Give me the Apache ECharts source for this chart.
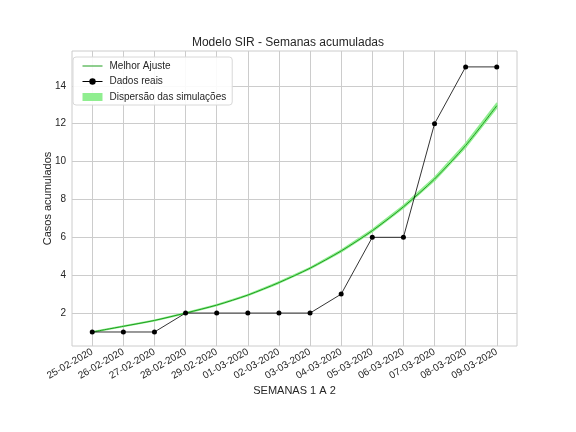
<!DOCTYPE html>
<html><head><meta charset="utf-8">
<script src="https://cdn.jsdelivr.net/npm/echarts@6/dist/echarts.min.js"></script>
<style>html,body{margin:0;padding:0;background:#fff}#c{width:576px;height:432px}</style>
</head><body><div id="c"></div>
<script>
const categories = ['25-02-2020','26-02-2020','27-02-2020','28-02-2020','29-02-2020','01-03-2020','02-03-2020','03-03-2020','04-03-2020','05-03-2020','06-03-2020','07-03-2020','08-03-2020','09-03-2020'];
const bestFit = [1.0,1.30,1.61,2.0,2.42,2.95,3.61,4.37,5.28,6.35,7.61,9.08,10.85,12.95];
const simLower = [0.99,1.29,1.60,1.98,2.40,2.93,3.58,4.34,5.24,6.30,7.55,9.00,10.76,12.84];
const simUpper = [1.01,1.31,1.62,2.02,2.44,2.97,3.64,4.40,5.32,6.40,7.67,9.16,10.95,13.08];
const realData = [1,1,1,2,2,2,2,2,3,6,6,12,15,15];
const yTicks = [2,4,6,8,10,12,14];

const xIdx = categories.map((_, i) => i);
const pair = arr => arr.map((v, i) => [i, v]);
const bandSegs = xIdx.slice(0, -1).map(i => [i, simLower[i], simUpper[i], simLower[i + 1], simUpper[i + 1]]);
const txt = '#262626';
const font = 'Liberation Sans, Arial, sans-serif';
const bandColor = '#90ee90';
const fitColor = '#1f9e1f';

const chart = echarts.init(document.getElementById('c'));
chart.setOption({
  animation: false,
  textStyle: {fontFamily: font, color: txt},
  title: {text: 'Modelo SIR - Semanas acumuladas', left: 'center', top: 32,
    textStyle: {fontFamily: font, fontSize: 12, fontWeight: 'normal', color: txt}},
  grid: {left: 72, right: 59, top: 51, bottom: 86, show: true, borderColor: '#cccccc', borderWidth: 1, backgroundColor: '#fff'},
  legend: {
    orient: 'vertical', left: 73, top: 57, itemGap: 5.5, itemWidth: 20, itemHeight: 8,
    backgroundColor: 'rgba(255,255,255,0.9)', borderColor: '#d8d8d8', borderWidth: 1, borderRadius: 3,
    padding: [4, 6, 3, 9],
    textStyle: {fontFamily: font, fontSize: 10, color: txt, padding: [0, 0, 0, 2]},
    data: [
      {name: 'Melhor Ajuste', itemStyle: {color: fitColor, opacity: 0}, lineStyle: {width: 1, color: fitColor, opacity: 1}},
      {name: 'Dados reais', lineStyle: {width: 1}},
      {name: 'Dispersão das simulações', icon: 'rect', itemStyle: {color: bandColor}}
    ]
  },
  xAxis: {
    type: 'value', min: -0.65, max: 13.65,
    axisLine: {show: false},
    axisTick: {show: true, length: 0, customValues: xIdx},
    splitLine: {show: true, lineStyle: {color: '#cccccc', width: 1}},
    axisLabel: {customValues: xIdx, rotate: 30, fontSize: 10, color: txt, margin: 5, fontFamily: font,
      formatter: v => categories[Math.round(v)] || ''},
    name: 'SEMANAS 1 A 2', nameLocation: 'middle', nameGap: 39, nameMoveOverlap: false,
    nameTextStyle: {fontSize: 11, color: txt, fontFamily: font}
  },
  yAxis: {
    type: 'value', min: 0.26, max: 15.84,
    axisLine: {show: false},
    axisTick: {show: true, length: 0, customValues: yTicks},
    splitLine: {show: true, lineStyle: {color: '#cccccc', width: 1}},
    axisLabel: {customValues: yTicks, fontSize: 10, color: txt, margin: 6, fontFamily: font},
    name: 'Casos acumulados', nameLocation: 'middle', nameGap: 19, nameMoveOverlap: false,
    nameTextStyle: {fontSize: 11, color: txt, fontFamily: font}
  },
  series: [
    {name: 'Dispersão das simulações', type: 'custom', data: bandSegs, silent: true, z: 1,
      itemStyle: {color: bandColor},
      encode: {x: 0, y: [1, 2, 3, 4]},
      renderItem: (params, api) => {
        const i = api.value(0);
        const p1 = api.coord([i, api.value(1)]);
        const p2 = api.coord([i, api.value(2)]);
        const p3 = api.coord([i + 1, api.value(4)]);
        const p4 = api.coord([i + 1, api.value(3)]);
        return {type: 'polygon', shape: {points: [p1, p2, p3, p4]},
          style: {fill: bandColor, stroke: bandColor, lineWidth: 1.6, lineJoin: 'round'}};
      }},
    {name: 'Melhor Ajuste', type: 'line', data: pair(bestFit), symbol: 'none', smooth: 0.3,
      lineStyle: {width: 1, color: fitColor}, itemStyle: {color: fitColor}, z: 3},
    {name: 'Dados reais', type: 'line', data: pair(realData), symbol: 'circle', symbolSize: 5,
      lineStyle: {width: 0.8, color: '#000'}, itemStyle: {color: '#000'}, z: 4}
  ]
});
</script></body></html>
